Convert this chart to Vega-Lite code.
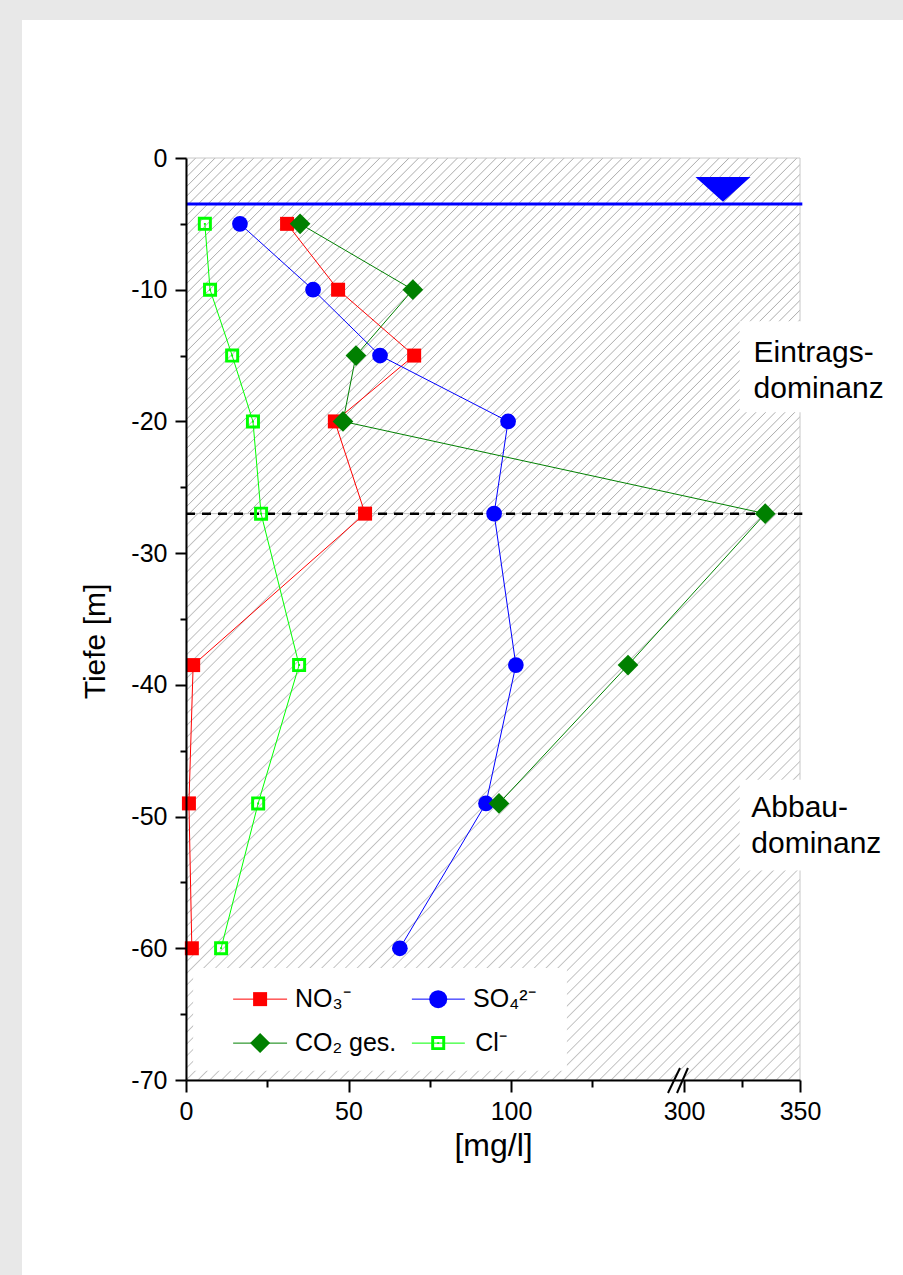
{
"$schema":"https://vega.github.io/schema/vega-lite/v6.json",
"width":614,"height":922,
"autosize":{"type":"none"},
"padding":{"left":186,"top":158,"right":103,"bottom":195},
"background":"#e8e8e8",
"config":{"view":{"stroke":null},"font":"Liberation Sans"},
"datasets":{"chem":[
{"ion":"NO3","depth":-5,"c":31.1},{"ion":"NO3","depth":-10,"c":46.8},{"ion":"NO3","depth":-15,"c":70.2},{"ion":"NO3","depth":-20,"c":45.8},{"ion":"NO3","depth":-27,"c":55.1},{"ion":"NO3","depth":-38.5,"c":2.2},{"ion":"NO3","depth":-49,"c":0.9},{"ion":"NO3","depth":-60,"c":1.8},
{"ion":"SO4","depth":-5,"c":16.6},{"ion":"SO4","depth":-10,"c":39.1},{"ion":"SO4","depth":-15,"c":59.7},{"ion":"SO4","depth":-20,"c":99.1},{"ion":"SO4","depth":-27,"c":94.8},{"ion":"SO4","depth":-38.5,"c":101.5},{"ion":"SO4","depth":-49,"c":92.3},{"ion":"SO4","depth":-60,"c":65.8},
{"ion":"CO2","depth":-5,"c":35.1},{"ion":"CO2","depth":-10,"c":69.8},{"ion":"CO2","depth":-15,"c":52.3},{"ion":"CO2","depth":-20,"c":48.3},{"ion":"CO2","depth":-27,"c":335},{"ion":"CO2","depth":-38.5,"c":136},{"ion":"CO2","depth":-49,"c":96.3},
{"ion":"Cl","depth":-5,"c":5.8},{"ion":"Cl","depth":-10,"c":7.4},{"ion":"Cl","depth":-15,"c":14.2},{"ion":"Cl","depth":-20,"c":20.6},{"ion":"Cl","depth":-27,"c":23.1},{"ion":"Cl","depth":-38.5,"c":34.8},{"ion":"Cl","depth":-49,"c":22.2},{"ion":"Cl","depth":-60,"c":10.8}
]},
"resolve":{"axis":{"x":"independent","y":"independent"}},
"layer":[
{"data":{"values":[{}]},"mark":{"type":"rect","fill":"#ffffff"},
 "encoding":{"x":{"datum":-50.46,"type":"quantitative","axis":null},"x2":{"datum":420},"y":{"datum":10.48,"type":"quantitative","axis":null},"y2":{"datum":-95}}},
{"data":{"values":[{}]},"mark":{"type":"rect","stroke":"#c8c8c8","strokeWidth":1,"fill":{"gradient":"linear","x1":0,"y1":0,"x2":1.1826,"y2":0.6849,"stops":[
{"offset":0.0089,"color":"#fff"},{"offset":0.01,"color":"#b0b0b0"},{"offset":0.0111,"color":"#fff"},
{"offset":0.0189,"color":"#fff"},{"offset":0.02,"color":"#b0b0b0"},{"offset":0.0211,"color":"#fff"},
{"offset":0.0289,"color":"#fff"},{"offset":0.03,"color":"#b0b0b0"},{"offset":0.0311,"color":"#fff"},
{"offset":0.0389,"color":"#fff"},{"offset":0.04,"color":"#b0b0b0"},{"offset":0.0411,"color":"#fff"},
{"offset":0.0489,"color":"#fff"},{"offset":0.05,"color":"#b0b0b0"},{"offset":0.0511,"color":"#fff"},
{"offset":0.0589,"color":"#fff"},{"offset":0.06,"color":"#b0b0b0"},{"offset":0.0611,"color":"#fff"},
{"offset":0.0689,"color":"#fff"},{"offset":0.07,"color":"#b0b0b0"},{"offset":0.0711,"color":"#fff"},
{"offset":0.0789,"color":"#fff"},{"offset":0.08,"color":"#b0b0b0"},{"offset":0.0811,"color":"#fff"},
{"offset":0.0889,"color":"#fff"},{"offset":0.09,"color":"#b0b0b0"},{"offset":0.0911,"color":"#fff"},
{"offset":0.0989,"color":"#fff"},{"offset":0.10,"color":"#b0b0b0"},{"offset":0.1011,"color":"#fff"},
{"offset":0.1089,"color":"#fff"},{"offset":0.11,"color":"#b0b0b0"},{"offset":0.1111,"color":"#fff"},
{"offset":0.1189,"color":"#fff"},{"offset":0.12,"color":"#b0b0b0"},{"offset":0.1211,"color":"#fff"},
{"offset":0.1289,"color":"#fff"},{"offset":0.13,"color":"#b0b0b0"},{"offset":0.1311,"color":"#fff"},
{"offset":0.1389,"color":"#fff"},{"offset":0.14,"color":"#b0b0b0"},{"offset":0.1411,"color":"#fff"},
{"offset":0.1489,"color":"#fff"},{"offset":0.15,"color":"#b0b0b0"},{"offset":0.1511,"color":"#fff"},
{"offset":0.1589,"color":"#fff"},{"offset":0.16,"color":"#b0b0b0"},{"offset":0.1611,"color":"#fff"},
{"offset":0.1689,"color":"#fff"},{"offset":0.17,"color":"#b0b0b0"},{"offset":0.1711,"color":"#fff"},
{"offset":0.1789,"color":"#fff"},{"offset":0.18,"color":"#b0b0b0"},{"offset":0.1811,"color":"#fff"},
{"offset":0.1889,"color":"#fff"},{"offset":0.19,"color":"#b0b0b0"},{"offset":0.1911,"color":"#fff"},
{"offset":0.1989,"color":"#fff"},{"offset":0.20,"color":"#b0b0b0"},{"offset":0.2011,"color":"#fff"},
{"offset":0.2089,"color":"#fff"},{"offset":0.21,"color":"#b0b0b0"},{"offset":0.2111,"color":"#fff"},
{"offset":0.2189,"color":"#fff"},{"offset":0.22,"color":"#b0b0b0"},{"offset":0.2211,"color":"#fff"},
{"offset":0.2289,"color":"#fff"},{"offset":0.23,"color":"#b0b0b0"},{"offset":0.2311,"color":"#fff"},
{"offset":0.2389,"color":"#fff"},{"offset":0.24,"color":"#b0b0b0"},{"offset":0.2411,"color":"#fff"},
{"offset":0.2489,"color":"#fff"},{"offset":0.25,"color":"#b0b0b0"},{"offset":0.2511,"color":"#fff"},
{"offset":0.2589,"color":"#fff"},{"offset":0.26,"color":"#b0b0b0"},{"offset":0.2611,"color":"#fff"},
{"offset":0.2689,"color":"#fff"},{"offset":0.27,"color":"#b0b0b0"},{"offset":0.2711,"color":"#fff"},
{"offset":0.2789,"color":"#fff"},{"offset":0.28,"color":"#b0b0b0"},{"offset":0.2811,"color":"#fff"},
{"offset":0.2889,"color":"#fff"},{"offset":0.29,"color":"#b0b0b0"},{"offset":0.2911,"color":"#fff"},
{"offset":0.2989,"color":"#fff"},{"offset":0.30,"color":"#b0b0b0"},{"offset":0.3011,"color":"#fff"},
{"offset":0.3089,"color":"#fff"},{"offset":0.31,"color":"#b0b0b0"},{"offset":0.3111,"color":"#fff"},
{"offset":0.3189,"color":"#fff"},{"offset":0.32,"color":"#b0b0b0"},{"offset":0.3211,"color":"#fff"},
{"offset":0.3289,"color":"#fff"},{"offset":0.33,"color":"#b0b0b0"},{"offset":0.3311,"color":"#fff"},
{"offset":0.3389,"color":"#fff"},{"offset":0.34,"color":"#b0b0b0"},{"offset":0.3411,"color":"#fff"},
{"offset":0.3489,"color":"#fff"},{"offset":0.35,"color":"#b0b0b0"},{"offset":0.3511,"color":"#fff"},
{"offset":0.3589,"color":"#fff"},{"offset":0.36,"color":"#b0b0b0"},{"offset":0.3611,"color":"#fff"},
{"offset":0.3689,"color":"#fff"},{"offset":0.37,"color":"#b0b0b0"},{"offset":0.3711,"color":"#fff"},
{"offset":0.3789,"color":"#fff"},{"offset":0.38,"color":"#b0b0b0"},{"offset":0.3811,"color":"#fff"},
{"offset":0.3889,"color":"#fff"},{"offset":0.39,"color":"#b0b0b0"},{"offset":0.3911,"color":"#fff"},
{"offset":0.3989,"color":"#fff"},{"offset":0.40,"color":"#b0b0b0"},{"offset":0.4011,"color":"#fff"},
{"offset":0.4089,"color":"#fff"},{"offset":0.41,"color":"#b0b0b0"},{"offset":0.4111,"color":"#fff"},
{"offset":0.4189,"color":"#fff"},{"offset":0.42,"color":"#b0b0b0"},{"offset":0.4211,"color":"#fff"},
{"offset":0.4289,"color":"#fff"},{"offset":0.43,"color":"#b0b0b0"},{"offset":0.4311,"color":"#fff"},
{"offset":0.4389,"color":"#fff"},{"offset":0.44,"color":"#b0b0b0"},{"offset":0.4411,"color":"#fff"},
{"offset":0.4489,"color":"#fff"},{"offset":0.45,"color":"#b0b0b0"},{"offset":0.4511,"color":"#fff"},
{"offset":0.4589,"color":"#fff"},{"offset":0.46,"color":"#b0b0b0"},{"offset":0.4611,"color":"#fff"},
{"offset":0.4689,"color":"#fff"},{"offset":0.47,"color":"#b0b0b0"},{"offset":0.4711,"color":"#fff"},
{"offset":0.4789,"color":"#fff"},{"offset":0.48,"color":"#b0b0b0"},{"offset":0.4811,"color":"#fff"},
{"offset":0.4889,"color":"#fff"},{"offset":0.49,"color":"#b0b0b0"},{"offset":0.4911,"color":"#fff"},
{"offset":0.4989,"color":"#fff"},{"offset":0.50,"color":"#b0b0b0"},{"offset":0.5011,"color":"#fff"},
{"offset":0.5089,"color":"#fff"},{"offset":0.51,"color":"#b0b0b0"},{"offset":0.5111,"color":"#fff"},
{"offset":0.5189,"color":"#fff"},{"offset":0.52,"color":"#b0b0b0"},{"offset":0.5211,"color":"#fff"},
{"offset":0.5289,"color":"#fff"},{"offset":0.53,"color":"#b0b0b0"},{"offset":0.5311,"color":"#fff"},
{"offset":0.5389,"color":"#fff"},{"offset":0.54,"color":"#b0b0b0"},{"offset":0.5411,"color":"#fff"},
{"offset":0.5489,"color":"#fff"},{"offset":0.55,"color":"#b0b0b0"},{"offset":0.5511,"color":"#fff"},
{"offset":0.5589,"color":"#fff"},{"offset":0.56,"color":"#b0b0b0"},{"offset":0.5611,"color":"#fff"},
{"offset":0.5689,"color":"#fff"},{"offset":0.57,"color":"#b0b0b0"},{"offset":0.5711,"color":"#fff"},
{"offset":0.5789,"color":"#fff"},{"offset":0.58,"color":"#b0b0b0"},{"offset":0.5811,"color":"#fff"},
{"offset":0.5889,"color":"#fff"},{"offset":0.59,"color":"#b0b0b0"},{"offset":0.5911,"color":"#fff"},
{"offset":0.5989,"color":"#fff"},{"offset":0.60,"color":"#b0b0b0"},{"offset":0.6011,"color":"#fff"},
{"offset":0.6089,"color":"#fff"},{"offset":0.61,"color":"#b0b0b0"},{"offset":0.6111,"color":"#fff"},
{"offset":0.6189,"color":"#fff"},{"offset":0.62,"color":"#b0b0b0"},{"offset":0.6211,"color":"#fff"},
{"offset":0.6289,"color":"#fff"},{"offset":0.63,"color":"#b0b0b0"},{"offset":0.6311,"color":"#fff"},
{"offset":0.6389,"color":"#fff"},{"offset":0.64,"color":"#b0b0b0"},{"offset":0.6411,"color":"#fff"},
{"offset":0.6489,"color":"#fff"},{"offset":0.65,"color":"#b0b0b0"},{"offset":0.6511,"color":"#fff"},
{"offset":0.6589,"color":"#fff"},{"offset":0.66,"color":"#b0b0b0"},{"offset":0.6611,"color":"#fff"},
{"offset":0.6689,"color":"#fff"},{"offset":0.67,"color":"#b0b0b0"},{"offset":0.6711,"color":"#fff"},
{"offset":0.6789,"color":"#fff"},{"offset":0.68,"color":"#b0b0b0"},{"offset":0.6811,"color":"#fff"},
{"offset":0.6889,"color":"#fff"},{"offset":0.69,"color":"#b0b0b0"},{"offset":0.6911,"color":"#fff"},
{"offset":0.6989,"color":"#fff"},{"offset":0.70,"color":"#b0b0b0"},{"offset":0.7011,"color":"#fff"},
{"offset":0.7089,"color":"#fff"},{"offset":0.71,"color":"#b0b0b0"},{"offset":0.7111,"color":"#fff"},
{"offset":0.7189,"color":"#fff"},{"offset":0.72,"color":"#b0b0b0"},{"offset":0.7211,"color":"#fff"},
{"offset":0.7289,"color":"#fff"},{"offset":0.73,"color":"#b0b0b0"},{"offset":0.7311,"color":"#fff"},
{"offset":0.7389,"color":"#fff"},{"offset":0.74,"color":"#b0b0b0"},{"offset":0.7411,"color":"#fff"},
{"offset":0.7489,"color":"#fff"},{"offset":0.75,"color":"#b0b0b0"},{"offset":0.7511,"color":"#fff"},
{"offset":0.7589,"color":"#fff"},{"offset":0.76,"color":"#b0b0b0"},{"offset":0.7611,"color":"#fff"},
{"offset":0.7689,"color":"#fff"},{"offset":0.77,"color":"#b0b0b0"},{"offset":0.7711,"color":"#fff"},
{"offset":0.7789,"color":"#fff"},{"offset":0.78,"color":"#b0b0b0"},{"offset":0.7811,"color":"#fff"},
{"offset":0.7889,"color":"#fff"},{"offset":0.79,"color":"#b0b0b0"},{"offset":0.7911,"color":"#fff"},
{"offset":0.7989,"color":"#fff"},{"offset":0.80,"color":"#b0b0b0"},{"offset":0.8011,"color":"#fff"},
{"offset":0.8089,"color":"#fff"},{"offset":0.81,"color":"#b0b0b0"},{"offset":0.8111,"color":"#fff"},
{"offset":0.8189,"color":"#fff"},{"offset":0.82,"color":"#b0b0b0"},{"offset":0.8211,"color":"#fff"},
{"offset":0.8289,"color":"#fff"},{"offset":0.83,"color":"#b0b0b0"},{"offset":0.8311,"color":"#fff"},
{"offset":0.8389,"color":"#fff"},{"offset":0.84,"color":"#b0b0b0"},{"offset":0.8411,"color":"#fff"},
{"offset":0.8489,"color":"#fff"},{"offset":0.85,"color":"#b0b0b0"},{"offset":0.8511,"color":"#fff"},
{"offset":0.8589,"color":"#fff"},{"offset":0.86,"color":"#b0b0b0"},{"offset":0.8611,"color":"#fff"},
{"offset":0.8689,"color":"#fff"},{"offset":0.87,"color":"#b0b0b0"},{"offset":0.8711,"color":"#fff"},
{"offset":0.8789,"color":"#fff"},{"offset":0.88,"color":"#b0b0b0"},{"offset":0.8811,"color":"#fff"},
{"offset":0.8889,"color":"#fff"},{"offset":0.89,"color":"#b0b0b0"},{"offset":0.8911,"color":"#fff"},
{"offset":0.8989,"color":"#fff"},{"offset":0.90,"color":"#b0b0b0"},{"offset":0.9011,"color":"#fff"},
{"offset":0.9089,"color":"#fff"},{"offset":0.91,"color":"#b0b0b0"},{"offset":0.9111,"color":"#fff"},
{"offset":0.9189,"color":"#fff"},{"offset":0.92,"color":"#b0b0b0"},{"offset":0.9211,"color":"#fff"},
{"offset":0.9289,"color":"#fff"},{"offset":0.93,"color":"#b0b0b0"},{"offset":0.9311,"color":"#fff"},
{"offset":0.9389,"color":"#fff"},{"offset":0.94,"color":"#b0b0b0"},{"offset":0.9411,"color":"#fff"},
{"offset":0.9489,"color":"#fff"},{"offset":0.95,"color":"#b0b0b0"},{"offset":0.9511,"color":"#fff"},
{"offset":0.9589,"color":"#fff"},{"offset":0.96,"color":"#b0b0b0"},{"offset":0.9611,"color":"#fff"},
{"offset":0.9689,"color":"#fff"},{"offset":0.97,"color":"#b0b0b0"},{"offset":0.9711,"color":"#fff"},
{"offset":0.9789,"color":"#fff"},{"offset":0.98,"color":"#b0b0b0"},{"offset":0.9811,"color":"#fff"},
{"offset":0.9889,"color":"#fff"},{"offset":0.99,"color":"#b0b0b0"},{"offset":0.9911,"color":"#fff"}
]}},
 "encoding":{"x":{"datum":0,"type":"quantitative","axis":{"orient":"bottom","values":[25,75,125,325],"tickSize":7,"tickWidth":2,"tickColor":"#000000","labels":false,"domain":false,"title":null,"grid":false,"zindex":1}},"x2":{"datum":350},
  "y":{"datum":0,"type":"quantitative","axis":{"orient":"left","values":[-65,-55,-45,-35,-25,-15,-5],"tickSize":6,"tickWidth":2,"tickColor":"#000000","labels":false,"domain":false,"title":null,"grid":false,"zindex":1}},"y2":{"datum":-27}}},
{"data":{"values":[{}]},"mark":{"type":"rect","stroke":"#c8c8c8","strokeWidth":1,"fill":{"gradient":"linear","x1":0,"y1":0,"x2":1.0386,"y2":0.9581,"stops":[
{"offset":0.0089,"color":"#fff"},{"offset":0.01,"color":"#c0c0c0"},{"offset":0.0111,"color":"#fff"},
{"offset":0.0189,"color":"#fff"},{"offset":0.02,"color":"#c0c0c0"},{"offset":0.0211,"color":"#fff"},
{"offset":0.0289,"color":"#fff"},{"offset":0.03,"color":"#c0c0c0"},{"offset":0.0311,"color":"#fff"},
{"offset":0.0389,"color":"#fff"},{"offset":0.04,"color":"#c0c0c0"},{"offset":0.0411,"color":"#fff"},
{"offset":0.0489,"color":"#fff"},{"offset":0.05,"color":"#c0c0c0"},{"offset":0.0511,"color":"#fff"},
{"offset":0.0589,"color":"#fff"},{"offset":0.06,"color":"#c0c0c0"},{"offset":0.0611,"color":"#fff"},
{"offset":0.0689,"color":"#fff"},{"offset":0.07,"color":"#c0c0c0"},{"offset":0.0711,"color":"#fff"},
{"offset":0.0789,"color":"#fff"},{"offset":0.08,"color":"#c0c0c0"},{"offset":0.0811,"color":"#fff"},
{"offset":0.0889,"color":"#fff"},{"offset":0.09,"color":"#c0c0c0"},{"offset":0.0911,"color":"#fff"},
{"offset":0.0989,"color":"#fff"},{"offset":0.10,"color":"#c0c0c0"},{"offset":0.1011,"color":"#fff"},
{"offset":0.1089,"color":"#fff"},{"offset":0.11,"color":"#c0c0c0"},{"offset":0.1111,"color":"#fff"},
{"offset":0.1189,"color":"#fff"},{"offset":0.12,"color":"#c0c0c0"},{"offset":0.1211,"color":"#fff"},
{"offset":0.1289,"color":"#fff"},{"offset":0.13,"color":"#c0c0c0"},{"offset":0.1311,"color":"#fff"},
{"offset":0.1389,"color":"#fff"},{"offset":0.14,"color":"#c0c0c0"},{"offset":0.1411,"color":"#fff"},
{"offset":0.1489,"color":"#fff"},{"offset":0.15,"color":"#c0c0c0"},{"offset":0.1511,"color":"#fff"},
{"offset":0.1589,"color":"#fff"},{"offset":0.16,"color":"#c0c0c0"},{"offset":0.1611,"color":"#fff"},
{"offset":0.1689,"color":"#fff"},{"offset":0.17,"color":"#c0c0c0"},{"offset":0.1711,"color":"#fff"},
{"offset":0.1789,"color":"#fff"},{"offset":0.18,"color":"#c0c0c0"},{"offset":0.1811,"color":"#fff"},
{"offset":0.1889,"color":"#fff"},{"offset":0.19,"color":"#c0c0c0"},{"offset":0.1911,"color":"#fff"},
{"offset":0.1989,"color":"#fff"},{"offset":0.20,"color":"#c0c0c0"},{"offset":0.2011,"color":"#fff"},
{"offset":0.2089,"color":"#fff"},{"offset":0.21,"color":"#c0c0c0"},{"offset":0.2111,"color":"#fff"},
{"offset":0.2189,"color":"#fff"},{"offset":0.22,"color":"#c0c0c0"},{"offset":0.2211,"color":"#fff"},
{"offset":0.2289,"color":"#fff"},{"offset":0.23,"color":"#c0c0c0"},{"offset":0.2311,"color":"#fff"},
{"offset":0.2389,"color":"#fff"},{"offset":0.24,"color":"#c0c0c0"},{"offset":0.2411,"color":"#fff"},
{"offset":0.2489,"color":"#fff"},{"offset":0.25,"color":"#c0c0c0"},{"offset":0.2511,"color":"#fff"},
{"offset":0.2589,"color":"#fff"},{"offset":0.26,"color":"#c0c0c0"},{"offset":0.2611,"color":"#fff"},
{"offset":0.2689,"color":"#fff"},{"offset":0.27,"color":"#c0c0c0"},{"offset":0.2711,"color":"#fff"},
{"offset":0.2789,"color":"#fff"},{"offset":0.28,"color":"#c0c0c0"},{"offset":0.2811,"color":"#fff"},
{"offset":0.2889,"color":"#fff"},{"offset":0.29,"color":"#c0c0c0"},{"offset":0.2911,"color":"#fff"},
{"offset":0.2989,"color":"#fff"},{"offset":0.30,"color":"#c0c0c0"},{"offset":0.3011,"color":"#fff"},
{"offset":0.3089,"color":"#fff"},{"offset":0.31,"color":"#c0c0c0"},{"offset":0.3111,"color":"#fff"},
{"offset":0.3189,"color":"#fff"},{"offset":0.32,"color":"#c0c0c0"},{"offset":0.3211,"color":"#fff"},
{"offset":0.3289,"color":"#fff"},{"offset":0.33,"color":"#c0c0c0"},{"offset":0.3311,"color":"#fff"},
{"offset":0.3389,"color":"#fff"},{"offset":0.34,"color":"#c0c0c0"},{"offset":0.3411,"color":"#fff"},
{"offset":0.3489,"color":"#fff"},{"offset":0.35,"color":"#c0c0c0"},{"offset":0.3511,"color":"#fff"},
{"offset":0.3589,"color":"#fff"},{"offset":0.36,"color":"#c0c0c0"},{"offset":0.3611,"color":"#fff"},
{"offset":0.3689,"color":"#fff"},{"offset":0.37,"color":"#c0c0c0"},{"offset":0.3711,"color":"#fff"},
{"offset":0.3789,"color":"#fff"},{"offset":0.38,"color":"#c0c0c0"},{"offset":0.3811,"color":"#fff"},
{"offset":0.3889,"color":"#fff"},{"offset":0.39,"color":"#c0c0c0"},{"offset":0.3911,"color":"#fff"},
{"offset":0.3989,"color":"#fff"},{"offset":0.40,"color":"#c0c0c0"},{"offset":0.4011,"color":"#fff"},
{"offset":0.4089,"color":"#fff"},{"offset":0.41,"color":"#c0c0c0"},{"offset":0.4111,"color":"#fff"},
{"offset":0.4189,"color":"#fff"},{"offset":0.42,"color":"#c0c0c0"},{"offset":0.4211,"color":"#fff"},
{"offset":0.4289,"color":"#fff"},{"offset":0.43,"color":"#c0c0c0"},{"offset":0.4311,"color":"#fff"},
{"offset":0.4389,"color":"#fff"},{"offset":0.44,"color":"#c0c0c0"},{"offset":0.4411,"color":"#fff"},
{"offset":0.4489,"color":"#fff"},{"offset":0.45,"color":"#c0c0c0"},{"offset":0.4511,"color":"#fff"},
{"offset":0.4589,"color":"#fff"},{"offset":0.46,"color":"#c0c0c0"},{"offset":0.4611,"color":"#fff"},
{"offset":0.4689,"color":"#fff"},{"offset":0.47,"color":"#c0c0c0"},{"offset":0.4711,"color":"#fff"},
{"offset":0.4789,"color":"#fff"},{"offset":0.48,"color":"#c0c0c0"},{"offset":0.4811,"color":"#fff"},
{"offset":0.4889,"color":"#fff"},{"offset":0.49,"color":"#c0c0c0"},{"offset":0.4911,"color":"#fff"},
{"offset":0.4989,"color":"#fff"},{"offset":0.50,"color":"#c0c0c0"},{"offset":0.5011,"color":"#fff"},
{"offset":0.5089,"color":"#fff"},{"offset":0.51,"color":"#c0c0c0"},{"offset":0.5111,"color":"#fff"},
{"offset":0.5189,"color":"#fff"},{"offset":0.52,"color":"#c0c0c0"},{"offset":0.5211,"color":"#fff"},
{"offset":0.5289,"color":"#fff"},{"offset":0.53,"color":"#c0c0c0"},{"offset":0.5311,"color":"#fff"},
{"offset":0.5389,"color":"#fff"},{"offset":0.54,"color":"#c0c0c0"},{"offset":0.5411,"color":"#fff"},
{"offset":0.5489,"color":"#fff"},{"offset":0.55,"color":"#c0c0c0"},{"offset":0.5511,"color":"#fff"},
{"offset":0.5589,"color":"#fff"},{"offset":0.56,"color":"#c0c0c0"},{"offset":0.5611,"color":"#fff"},
{"offset":0.5689,"color":"#fff"},{"offset":0.57,"color":"#c0c0c0"},{"offset":0.5711,"color":"#fff"},
{"offset":0.5789,"color":"#fff"},{"offset":0.58,"color":"#c0c0c0"},{"offset":0.5811,"color":"#fff"},
{"offset":0.5889,"color":"#fff"},{"offset":0.59,"color":"#c0c0c0"},{"offset":0.5911,"color":"#fff"},
{"offset":0.5989,"color":"#fff"},{"offset":0.60,"color":"#c0c0c0"},{"offset":0.6011,"color":"#fff"},
{"offset":0.6089,"color":"#fff"},{"offset":0.61,"color":"#c0c0c0"},{"offset":0.6111,"color":"#fff"},
{"offset":0.6189,"color":"#fff"},{"offset":0.62,"color":"#c0c0c0"},{"offset":0.6211,"color":"#fff"},
{"offset":0.6289,"color":"#fff"},{"offset":0.63,"color":"#c0c0c0"},{"offset":0.6311,"color":"#fff"},
{"offset":0.6389,"color":"#fff"},{"offset":0.64,"color":"#c0c0c0"},{"offset":0.6411,"color":"#fff"},
{"offset":0.6489,"color":"#fff"},{"offset":0.65,"color":"#c0c0c0"},{"offset":0.6511,"color":"#fff"},
{"offset":0.6589,"color":"#fff"},{"offset":0.66,"color":"#c0c0c0"},{"offset":0.6611,"color":"#fff"},
{"offset":0.6689,"color":"#fff"},{"offset":0.67,"color":"#c0c0c0"},{"offset":0.6711,"color":"#fff"},
{"offset":0.6789,"color":"#fff"},{"offset":0.68,"color":"#c0c0c0"},{"offset":0.6811,"color":"#fff"},
{"offset":0.6889,"color":"#fff"},{"offset":0.69,"color":"#c0c0c0"},{"offset":0.6911,"color":"#fff"},
{"offset":0.6989,"color":"#fff"},{"offset":0.70,"color":"#c0c0c0"},{"offset":0.7011,"color":"#fff"},
{"offset":0.7089,"color":"#fff"},{"offset":0.71,"color":"#c0c0c0"},{"offset":0.7111,"color":"#fff"},
{"offset":0.7189,"color":"#fff"},{"offset":0.72,"color":"#c0c0c0"},{"offset":0.7211,"color":"#fff"},
{"offset":0.7289,"color":"#fff"},{"offset":0.73,"color":"#c0c0c0"},{"offset":0.7311,"color":"#fff"},
{"offset":0.7389,"color":"#fff"},{"offset":0.74,"color":"#c0c0c0"},{"offset":0.7411,"color":"#fff"},
{"offset":0.7489,"color":"#fff"},{"offset":0.75,"color":"#c0c0c0"},{"offset":0.7511,"color":"#fff"},
{"offset":0.7589,"color":"#fff"},{"offset":0.76,"color":"#c0c0c0"},{"offset":0.7611,"color":"#fff"},
{"offset":0.7689,"color":"#fff"},{"offset":0.77,"color":"#c0c0c0"},{"offset":0.7711,"color":"#fff"},
{"offset":0.7789,"color":"#fff"},{"offset":0.78,"color":"#c0c0c0"},{"offset":0.7811,"color":"#fff"},
{"offset":0.7889,"color":"#fff"},{"offset":0.79,"color":"#c0c0c0"},{"offset":0.7911,"color":"#fff"},
{"offset":0.7989,"color":"#fff"},{"offset":0.80,"color":"#c0c0c0"},{"offset":0.8011,"color":"#fff"},
{"offset":0.8089,"color":"#fff"},{"offset":0.81,"color":"#c0c0c0"},{"offset":0.8111,"color":"#fff"},
{"offset":0.8189,"color":"#fff"},{"offset":0.82,"color":"#c0c0c0"},{"offset":0.8211,"color":"#fff"},
{"offset":0.8289,"color":"#fff"},{"offset":0.83,"color":"#c0c0c0"},{"offset":0.8311,"color":"#fff"},
{"offset":0.8389,"color":"#fff"},{"offset":0.84,"color":"#c0c0c0"},{"offset":0.8411,"color":"#fff"},
{"offset":0.8489,"color":"#fff"},{"offset":0.85,"color":"#c0c0c0"},{"offset":0.8511,"color":"#fff"},
{"offset":0.8589,"color":"#fff"},{"offset":0.86,"color":"#c0c0c0"},{"offset":0.8611,"color":"#fff"},
{"offset":0.8689,"color":"#fff"},{"offset":0.87,"color":"#c0c0c0"},{"offset":0.8711,"color":"#fff"},
{"offset":0.8789,"color":"#fff"},{"offset":0.88,"color":"#c0c0c0"},{"offset":0.8811,"color":"#fff"},
{"offset":0.8889,"color":"#fff"},{"offset":0.89,"color":"#c0c0c0"},{"offset":0.8911,"color":"#fff"},
{"offset":0.8989,"color":"#fff"},{"offset":0.90,"color":"#c0c0c0"},{"offset":0.9011,"color":"#fff"},
{"offset":0.9089,"color":"#fff"},{"offset":0.91,"color":"#c0c0c0"},{"offset":0.9111,"color":"#fff"},
{"offset":0.9189,"color":"#fff"},{"offset":0.92,"color":"#c0c0c0"},{"offset":0.9211,"color":"#fff"},
{"offset":0.9289,"color":"#fff"},{"offset":0.93,"color":"#c0c0c0"},{"offset":0.9311,"color":"#fff"},
{"offset":0.9389,"color":"#fff"},{"offset":0.94,"color":"#c0c0c0"},{"offset":0.9411,"color":"#fff"},
{"offset":0.9489,"color":"#fff"},{"offset":0.95,"color":"#c0c0c0"},{"offset":0.9511,"color":"#fff"},
{"offset":0.9589,"color":"#fff"},{"offset":0.96,"color":"#c0c0c0"},{"offset":0.9611,"color":"#fff"},
{"offset":0.9689,"color":"#fff"},{"offset":0.97,"color":"#c0c0c0"},{"offset":0.9711,"color":"#fff"},
{"offset":0.9789,"color":"#fff"},{"offset":0.98,"color":"#c0c0c0"},{"offset":0.9811,"color":"#fff"},
{"offset":0.9889,"color":"#fff"},{"offset":0.99,"color":"#c0c0c0"},{"offset":0.9911,"color":"#fff"}
]}},
 "encoding":{"x":{"datum":0,"type":"quantitative","axis":null},"x2":{"datum":350},"y":{"datum":-27,"type":"quantitative","axis":null},"y2":{"datum":-70}}},
{"data":{"values":[{}]},"mark":{"type":"rect","fill":"#ffffff"},
 "encoding":{"x":{"datum":2.2,"type":"quantitative","axis":null},"x2":{"datum":117.2},"y":{"datum":-61.5,"type":"quantitative","axis":null},"y2":{"datum":-69.3}}},
{"data":{"values":[{}]},"mark":{"type":"rect","fill":"#ffffff"},
 "encoding":{"x":{"datum":324,"type":"quantitative","axis":null},"x2":{"datum":392},"y":{"datum":-12.4,"type":"quantitative","axis":null},"y2":{"datum":-19.3}}},
{"data":{"values":[{}]},"mark":{"type":"rect","fill":"#ffffff"},
 "encoding":{"x":{"datum":324,"type":"quantitative","axis":null},"x2":{"datum":392},"y":{"datum":-47.2,"type":"quantitative","axis":null},"y2":{"datum":-54.1}}},
{"data":{"values":[{}]},"mark":{"type":"rule","color":"#0000ff","strokeWidth":3},
 "encoding":{"x":{"datum":0,"type":"quantitative","axis":null},"x2":{"datum":351},"y":{"datum":-3.5,"type":"quantitative","axis":null}}},
{"data":{"values":[{}]},"mark":{"type":"rule","color":"#000000","strokeWidth":2.5,"strokeDash":[9,7]},
 "encoding":{"x":{"datum":0,"type":"quantitative","axis":null},"x2":{"datum":351},"y":{"datum":-27,"type":"quantitative","axis":null}}},
{"data":{"name":"chem"},"mark":{"type":"line","strokeWidth":1},
 "encoding":{
  "x":{"field":"c","type":"quantitative","scale":{"domain":[0,150,300,350],"range":[0,487.5,498,614],"nice":false,"zero":false},
   "axis":{"orient":"bottom","values":[0,50,100,300,350],"labelExpr":"'' + datum.value","tickSize":12,"tickWidth":2,"tickColor":"#000000","domainColor":"#000000","domainWidth":2,"labelFont":"Liberation Sans","labelFontSize":25,"labelColor":"#000000","labelPadding":7,"labelFlush":false,"labelOverlap":false,"grid":false,"title":"[mg/l]","titleFont":"Liberation Sans","titleFontSize":32,"titleFontWeight":"normal","titleColor":"#000000","titlePadding":6,"zindex":1}},
  "y":{"field":"depth","type":"quantitative","scale":{"domain":[-70,0],"nice":false,"zero":false},
   "axis":{"orient":"left","values":[-70,-60,-50,-40,-30,-20,-10,0],"labelExpr":"'' + datum.value","tickSize":11,"tickWidth":2,"tickColor":"#000000","domainColor":"#000000","domainWidth":2,"labelFont":"Liberation Sans","labelFontSize":25,"labelColor":"#000000","labelPadding":8,"labelFlush":false,"labelOverlap":false,"grid":false,"title":"Tiefe [m]","titleFont":"Liberation Sans","titleFontSize":30,"titleFontWeight":"normal","titleColor":"#000000","titlePadding":20,"titleY":483,"zindex":1}},
  "color":{"field":"ion","type":"nominal","scale":{"domain":["NO3","SO4","CO2","Cl"],"range":["#ff0000","#0000ff","#008000","#00ff00"]},"legend":null},
  "order":{"field":"depth","sort":"descending"}}},
{"data":{"name":"chem"},"transform":[{"filter":"datum.ion === 'NO3'"}],"mark":{"type":"point","shape":"square","size":196,"filled":true,"color":"#ff0000","opacity":1},
 "encoding":{"x":{"field":"c","type":"quantitative","axis":null},"y":{"field":"depth","type":"quantitative","axis":null}}},
{"data":{"name":"chem"},"transform":[{"filter":"datum.ion === 'SO4'"}],"mark":{"type":"point","shape":"circle","size":246,"filled":true,"color":"#0000ff","opacity":1},
 "encoding":{"x":{"field":"c","type":"quantitative","axis":null},"y":{"field":"depth","type":"quantitative","axis":null}}},
{"data":{"name":"chem"},"transform":[{"filter":"datum.ion === 'CO2'"}],"mark":{"type":"point","shape":"diamond","size":428,"filled":true,"color":"#008000","opacity":1},
 "encoding":{"x":{"field":"c","type":"quantitative","axis":null},"y":{"field":"depth","type":"quantitative","axis":null}}},
{"data":{"name":"chem"},"transform":[{"filter":"datum.ion === 'Cl'"}],"mark":{"type":"point","shape":"M-1,-1H1V1H-1ZM-0.58,-0.58V0.58H0.58V-0.58ZM-0.14,-0.14H0.14V0.14H-0.14Z","size":196,"filled":true,"color":"#00ff00","opacity":1},
 "encoding":{"x":{"field":"c","type":"quantitative","axis":null},"y":{"field":"depth","type":"quantitative","axis":null}}},
{"data":{"values":[{}]},"mark":{"type":"point","shape":"M-1,-0.45L1,-0.45L0,0.45Z","size":3025,"filled":true,"color":"#0000ff","opacity":1},
 "encoding":{"x":{"datum":316.8,"type":"quantitative","axis":null},"y":{"datum":-2.39,"type":"quantitative","axis":null}}},
{"data":{"values":[{}]},"mark":{"type":"text","text":["Eintrags-","dominanz"],"align":"left","baseline":"alphabetic","font":"Liberation Sans","fontSize":30,"lineHeight":36,"color":"#000000"},
 "encoding":{"x":{"datum":330,"type":"quantitative","axis":null},"y":{"datum":-15.5,"type":"quantitative","axis":null}}},
{"data":{"values":[{}]},"mark":{"type":"text","text":["Abbau-","dominanz"],"align":"left","baseline":"alphabetic","font":"Liberation Sans","fontSize":30,"lineHeight":36,"color":"#000000"},
 "encoding":{"x":{"datum":329,"type":"quantitative","axis":null},"y":{"datum":-50,"type":"quantitative","axis":null}}},
{"data":{"values":[{}]},"mark":{"type":"rule","color":"#ff0000","strokeWidth":1},
 "encoding":{"x":{"datum":14.5,"type":"quantitative","axis":null},"x2":{"datum":31.1},"y":{"datum":-63.86,"type":"quantitative","axis":null}}},
{"data":{"values":[{}]},"mark":{"type":"point","shape":"square","size":196,"filled":true,"color":"#ff0000","opacity":1},
 "encoding":{"x":{"datum":22.8,"type":"quantitative","axis":null},"y":{"datum":-63.86,"type":"quantitative","axis":null}}},
{"data":{"values":[{}]},"mark":{"type":"text","text":"NO₃⁻","align":"left","baseline":"middle","font":"Liberation Sans","fontSize":25,"color":"#000000"},
 "encoding":{"x":{"datum":33.5,"type":"quantitative","axis":null},"y":{"datum":-63.86,"type":"quantitative","axis":null}}},
{"data":{"values":[{}]},"mark":{"type":"rule","color":"#0000ff","strokeWidth":1},
 "encoding":{"x":{"datum":69.5,"type":"quantitative","axis":null},"x2":{"datum":85.8},"y":{"datum":-63.86,"type":"quantitative","axis":null}}},
{"data":{"values":[{}]},"mark":{"type":"point","shape":"circle","size":324,"filled":true,"color":"#0000ff","opacity":1},
 "encoding":{"x":{"datum":77.6,"type":"quantitative","axis":null},"y":{"datum":-63.86,"type":"quantitative","axis":null}}},
{"data":{"values":[{}]},"mark":{"type":"text","text":"SO₄²⁻","align":"left","baseline":"middle","font":"Liberation Sans","fontSize":25,"color":"#000000"},
 "encoding":{"x":{"datum":88.3,"type":"quantitative","axis":null},"y":{"datum":-63.86,"type":"quantitative","axis":null}}},
{"data":{"values":[{}]},"mark":{"type":"rule","color":"#008000","strokeWidth":1},
 "encoding":{"x":{"datum":14.5,"type":"quantitative","axis":null},"x2":{"datum":31.1},"y":{"datum":-67.2,"type":"quantitative","axis":null}}},
{"data":{"values":[{}]},"mark":{"type":"point","shape":"diamond","size":400,"filled":true,"color":"#008000","opacity":1},
 "encoding":{"x":{"datum":22.8,"type":"quantitative","axis":null},"y":{"datum":-67.2,"type":"quantitative","axis":null}}},
{"data":{"values":[{}]},"mark":{"type":"text","text":"CO₂ ges.","align":"left","baseline":"middle","font":"Liberation Sans","fontSize":25,"color":"#000000"},
 "encoding":{"x":{"datum":33.5,"type":"quantitative","axis":null},"y":{"datum":-67.2,"type":"quantitative","axis":null}}},
{"data":{"values":[{}]},"mark":{"type":"rule","color":"#00ff00","strokeWidth":1},
 "encoding":{"x":{"datum":69.5,"type":"quantitative","axis":null},"x2":{"datum":85.8},"y":{"datum":-67.2,"type":"quantitative","axis":null}}},
{"data":{"values":[{}]},"mark":{"type":"point","shape":"M-1,-1H1V1H-1ZM-0.58,-0.58V0.58H0.58V-0.58ZM-0.14,-0.14H0.14V0.14H-0.14Z","size":196,"filled":true,"color":"#00ff00","opacity":1},
 "encoding":{"x":{"datum":77.6,"type":"quantitative","axis":null},"y":{"datum":-67.2,"type":"quantitative","axis":null}}},
{"data":{"values":[{}]},"mark":{"type":"text","text":"Cl⁻","align":"left","baseline":"middle","font":"Liberation Sans","fontSize":25,"color":"#000000"},
 "encoding":{"x":{"datum":89,"type":"quantitative","axis":null},"y":{"datum":-67.2,"type":"quantitative","axis":null}}},
{"data":{"values":[{}]},"mark":{"type":"rule","color":"#000000","strokeWidth":2,"yOffset":13,"y2Offset":-12},
 "encoding":{"x":{"datum":148.3,"type":"quantitative","axis":null},"x2":{"datum":242.9},"y":{"datum":-70,"type":"quantitative","axis":null},"y2":{"datum":-70}}},
{"data":{"values":[{}]},"mark":{"type":"rule","color":"#000000","strokeWidth":2,"yOffset":13,"y2Offset":-12},
 "encoding":{"x":{"datum":200,"type":"quantitative","axis":null},"x2":{"datum":301.7},"y":{"datum":-70,"type":"quantitative","axis":null},"y2":{"datum":-70}}}
]
}
